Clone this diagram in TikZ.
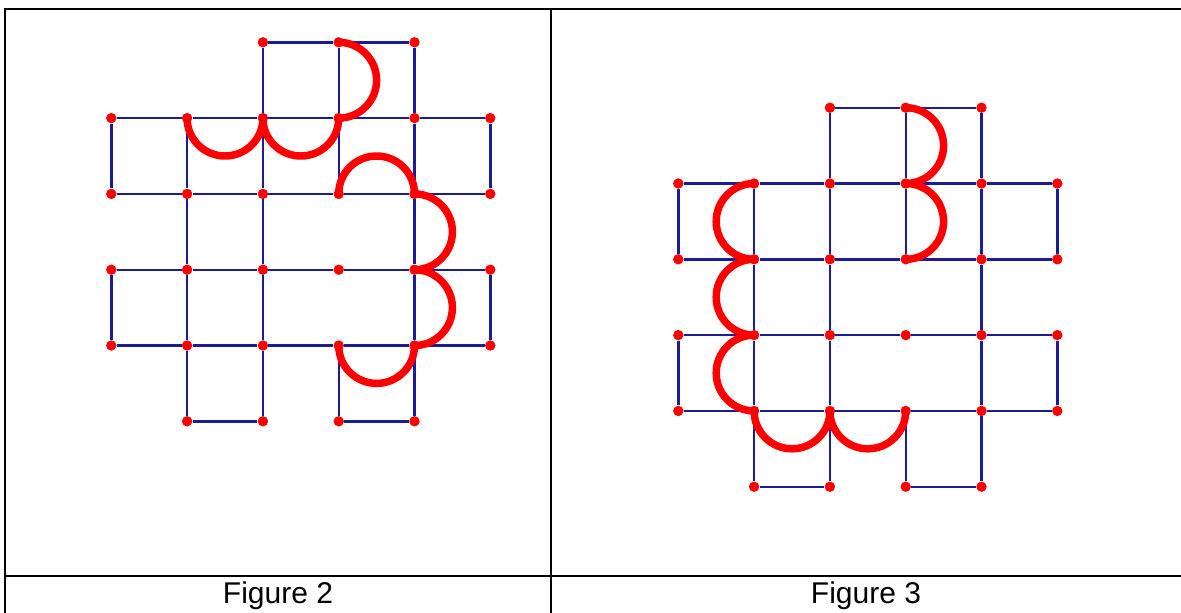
\documentclass[tikz,border=0pt]{standalone}
\usepackage{fontspec}
\setmainfont{Liberation Sans}
\definecolor{gridblue}{RGB}{28,28,150}
\newcommand\figgrid[1]{%
  \foreach \c/\r in {2/0,3/0,4/0,
                     0/1,1/1,2/1,3/1,4/1,5/1,
                     0/2,1/2,2/2,3/2,4/2,5/2,
                     0/3,1/3,2/3,3/3,4/3,5/3,
                     0/4,1/4,2/4,3/4,4/4,5/4,
                     1/5,2/5,3/5,4/5}
    {\node[dot] (#1-\c-\r) at (\c*75.8,-\r*75.8) {};}
  \foreach \a/\b in {2-0/3-0,3-0/4-0,
                     0-1/1-1,1-1/2-1,2-1/3-1,3-1/4-1,4-1/5-1,
                     0-2/1-2,1-2/2-2,2-2/3-2,3-2/4-2,4-2/5-2,
                     0-3/1-3,1-3/2-3,2-3/3-3,3-3/4-3,4-3/5-3,
                     0-4/1-4,1-4/2-4,2-4/3-4,3-4/4-4,4-4/5-4,
                     1-5/2-5,3-5/4-5,
                     0-1/0-2,0-3/0-4,
                     1-1/1-2,1-2/1-3,1-3/1-4,1-4/1-5,
                     2-0/2-1,2-1/2-2,2-2/2-3,2-3/2-4,2-4/2-5,
                     3-0/3-1,3-1/3-2,3-4/3-5,
                     4-0/4-1,4-1/4-2,4-2/4-3,4-3/4-4,4-4/4-5,
                     5-1/5-2,5-3/5-4}
    {\draw[edge] (#1-\a) -- (#1-\b);}
}
\begin{document}
\begin{tikzpicture}[x=0.75pt,y=0.75pt,
  dot/.style={circle,fill=red,inner sep=0pt,minimum size=7.8pt},
  edge/.style={draw=gridblue,line width=1.8pt},
  semi/.style={draw=red,line width=5.6pt,line cap=round},
  frame/.style={draw=black,line width=2pt},
  caption/.style={font=\fontsize{22.5}{26}\selectfont,anchor=base,inner sep=0pt}]
\useasboundingbox (0,0) rectangle (1181,-612);
% table frame
\draw[frame] (5,-620) -- (5,-9) -- (1190,-9);
\draw[frame] (551,-9) -- (551,-620);
\draw[frame] (5,-576) -- (1190,-576);
% Figure 2
\begin{scope}[shift={(111.3,-42.3)}]
  \figgrid{fa}
\end{scope}
\draw[semi] (fa-3-0.center) arc[start angle=90,end angle=-90,radius=37.9];
\draw[semi] (fa-1-1.center) arc[start angle=180,end angle=360,radius=37.9];
\draw[semi] (fa-2-1.center) arc[start angle=180,end angle=360,radius=37.9];
\draw[semi] (fa-3-2.center) arc[start angle=180,end angle=0,radius=37.9];
\draw[semi] (fa-4-2.center) arc[start angle=90,end angle=-90,radius=37.9];
\draw[semi] (fa-4-3.center) arc[start angle=90,end angle=-90,radius=37.9];
\draw[semi] (fa-3-4.center) arc[start angle=180,end angle=360,radius=37.9];
% Figure 3
\begin{scope}[shift={(678.3,-107.7)}]
  \figgrid{fb}
\end{scope}
\draw[semi] (fb-3-0.center) arc[start angle=90,end angle=-90,radius=37.9];
\draw[semi] (fb-3-1.center) arc[start angle=90,end angle=-90,radius=37.9];
\draw[semi] (fb-1-1.center) arc[start angle=90,end angle=270,radius=37.9];
\draw[semi] (fb-1-2.center) arc[start angle=90,end angle=270,radius=37.9];
\draw[semi] (fb-1-3.center) arc[start angle=90,end angle=270,radius=37.9];
\draw[semi] (fb-1-4.center) arc[start angle=180,end angle=360,radius=37.9];
\draw[semi] (fb-2-4.center) arc[start angle=180,end angle=360,radius=37.9];
% captions
\node[caption] (cap2) at (278,-603) {Figure 2};
\node[caption] (cap3) at (866,-603) {Figure 3};
\end{tikzpicture}
\end{document}
